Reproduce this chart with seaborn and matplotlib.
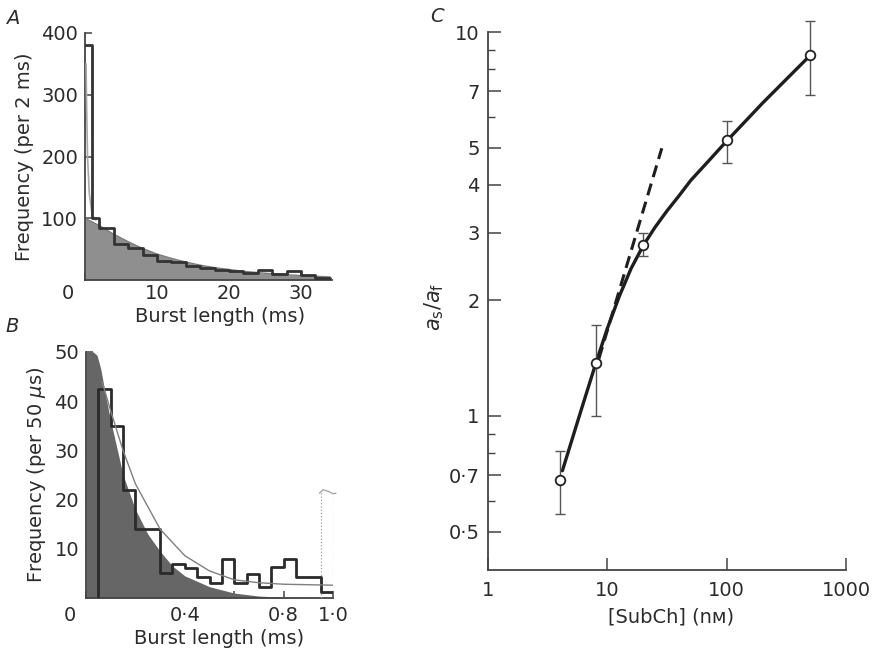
import numpy as np
import pandas as pd
import matplotlib
matplotlib.use("Agg")
import matplotlib.pyplot as plt
import seaborn as sns
from matplotlib.transforms import ScaledTranslation
from matplotlib.ticker import FixedLocator, FixedFormatter, NullLocator

# ---------------- Panel A data ----------------
a_edges = [0, 1, 2, 4, 6, 8, 10, 12, 14, 16, 18, 20, 22, 24, 26, 28, 30, 32, 34]
a_counts = [380, 100, 85, 58, 52, 40, 31, 29, 22, 20, 16, 14, 12, 16, 9, 14.5, 8, 4]
a_fill_x = [0, 1, 2, 4, 6, 8, 10, 12, 14, 16, 18, 20, 22, 25, 28, 31, 34]
a_fill_y = [100, 94, 88, 74, 62, 51, 42, 35, 29, 24, 20, 17, 14, 11, 8.5, 6.5, 5]
a_fast_x = [0.15, 0.2, 0.35, 0.6, 1.0, 1.5]
a_fast_y = [350, 300, 200, 140, 105, 97]

# ---------------- Panel B data ----------------
b_edges = [0.05, 0.10, 0.15, 0.20, 0.25, 0.30, 0.35, 0.40, 0.45, 0.50,
           0.55, 0.60, 0.65, 0.70, 0.75, 0.80, 0.85, 0.90, 0.95, 1.00]
b_counts = [42.5, 35, 22, 14, 14, 5, 7, 6, 4.3, 3, 8, 3, 4.8, 2.2, 6.3, 8, 4.3, 4.3, 1.2]
b_fill_x = [0, 0.03, 0.045, 0.06, 0.08, 0.10, 0.15, 0.20, 0.25, 0.30, 0.35, 0.40,
            0.50, 0.60, 0.70, 0.80, 0.90, 1.00]
b_fill_y = [50, 50, 49.3, 46.5, 41, 36, 25, 18, 13, 9.5, 6.5, 4.5, 2.3, 1.0, 0.4, 0.15, 0.05, 0]
b_fit_x = [0.065, 0.10, 0.15, 0.20, 0.30, 0.40, 0.50, 0.60, 0.70, 0.80, 0.90, 1.00]
b_fit_y = [44, 38, 30, 23.2, 14, 8.6, 5.5, 3.7, 3.1, 2.8, 2.7, 2.6]
b_overflow_edges = [0.95, 1.00]
b_overflow_value = 21.5

# ---------------- Panel C data ----------------
c_conc = [4, 8, 20, 100, 500]
c_ratio = [0.68, 1.37, 2.78, 5.22, 8.7]
c_low = [0.555, 1.0, 2.61, 4.55, 6.85]
c_high = [0.81, 1.73, 2.99, 5.87, 10.7]
c_curve_x = [4.2, 6, 8, 10, 12.6, 15.8, 20, 25.1, 31.6, 40, 50.1, 70.8, 100, 200, 316, 490]
c_curve_y = [0.72, 1.03, 1.37, 1.69, 2.05, 2.42, 2.78, 3.10, 3.42, 3.75, 4.11, 4.62, 5.2,
             6.53, 7.53, 8.63]
c_dash_x = [8.5, 28.6]
c_dash_y = [1.41, 4.98]

# ---------------- style ----------------
sns.set_theme(style="ticks")
plt.rcParams["font.family"] = ["DejaVu Sans"]
TXT = "#2b2b2b"
plt.rcParams.update({
    "text.color": TXT, "axes.labelcolor": TXT,
    "xtick.color": "#444444", "ytick.color": "#444444",
    "xtick.labelcolor": TXT, "ytick.labelcolor": TXT,
    "axes.edgecolor": "#444444", "axes.linewidth": 1.3,
    "mathtext.fontset": "dejavusans",
})
FS = 14

W, H = 872, 657
fig = plt.figure(figsize=(W / 100, H / 100), dpi=100, facecolor="white")

def px_axes(left, top, right, bottom):
    return fig.add_axes([left / W, 1 - bottom / H, (right - left) / W, (bottom - top) / H])

def shift_label(lbl, dx_px):
    lbl.set_transform(lbl.get_transform() + ScaledTranslation(dx_px / 100, 0, fig.dpi_scale_trans))

# ---------------- Panel A ----------------
axA = px_axes(85, 33, 332, 280)
axA.fill_between(a_fill_x, 0, a_fill_y, color="#8f8f8f", lw=0, zorder=1)
sns.lineplot(x=a_fill_x, y=a_fill_y, ax=axA, color="#7a7a7a", lw=1, sort=False, zorder=2)
a_centers = [(a_edges[i] + a_edges[i + 1]) / 2 for i in range(len(a_counts))]
sns.histplot(x=a_centers, weights=a_counts, bins=a_edges, element="step", fill=False,
             color="#333333", linewidth=2.0, ax=axA, zorder=4)
sns.lineplot(x=a_fast_x, y=a_fast_y, ax=axA, color="#a8a8a8", lw=1.2, sort=False, zorder=3)
axA.set_xlim(0, 34.3)
axA.set_ylim(0, 400)
axA.xaxis.set_major_locator(FixedLocator([0, 10, 20, 30]))
axA.xaxis.set_major_formatter(FixedFormatter(["0", "10", "20", "30"]))
axA.xaxis.set_minor_locator(FixedLocator([5, 15, 25]))
axA.yaxis.set_major_locator(FixedLocator([100, 200, 300, 400]))
axA.yaxis.set_major_formatter(FixedFormatter(["100", "200", "300", "400"]))
axA.tick_params(which="both", direction="in", length=5, width=1.1, labelsize=FS)
axA.tick_params(axis="x", pad=3)
axA.tick_params(axis="y", pad=5)
axA.set_xlabel("Burst length (ms)", fontsize=FS)
axA.set_ylabel("Frequency (per 2 ms)", fontsize=FS)
axA.xaxis.set_label_coords(0.545, -0.11)
axA.yaxis.set_label_coords(-0.206, 0.5)
sns.despine(ax=axA)
fig.canvas.draw()
shift_label(axA.get_xticklabels()[0], -17)

# ---------------- Panel B ----------------
axB = px_axes(86, 352, 333, 598)
axB.fill_between(b_fill_x, 0, b_fill_y, color="#666666", lw=0, zorder=1)
b_centers = [(b_edges[i] + b_edges[i + 1]) / 2 for i in range(len(b_counts))]
sns.histplot(x=b_centers, weights=b_counts, bins=b_edges, element="step", fill=False,
             color="#2a2a2a", linewidth=2.0, ax=axB, zorder=4)
axB.vlines([b_edges[0]], 0, [b_counts[0]], colors="#2a2a2a", lw=2.0, zorder=4)
sns.lineplot(x=b_fit_x, y=b_fit_y, ax=axB, color="#808080", lw=1.0, sort=False, zorder=5)
axB.vlines(b_overflow_edges, 0, b_overflow_value, colors="#a0a0a0", lw=0.9,
           linestyles=(0, (1, 1.6)), zorder=3)
axB.plot([b_overflow_edges[0] - 0.005, b_overflow_edges[0] + 0.01, b_overflow_edges[1] - 0.02,
          b_overflow_edges[1], b_overflow_edges[1] + 0.012],
         [b_overflow_value - 0.2, b_overflow_value + 0.5, b_overflow_value + 0.2,
          b_overflow_value - 0.3, b_overflow_value - 0.2],
         color="#a0a0a0", lw=0.9, clip_on=False, zorder=3)
axB.set_xlim(0, 1.0)
axB.set_ylim(0, 50)
axB.xaxis.set_major_locator(FixedLocator([0, 0.4, 0.8, 1.0]))
axB.xaxis.set_major_formatter(FixedFormatter(["0", "0·4", "0·8", "1·0"]))
axB.xaxis.set_minor_locator(FixedLocator([0.2, 0.6]))
axB.yaxis.set_major_locator(FixedLocator([10, 20, 30, 40, 50]))
axB.yaxis.set_major_formatter(FixedFormatter(["10", "20", "30", "40", "50"]))
axB.tick_params(which="both", direction="in", length=5, width=1.1, labelsize=FS)
axB.tick_params(axis="x", pad=6)
axB.tick_params(axis="y", pad=5)
axB.set_xlabel("Burst length (ms)", fontsize=FS)
axB.set_ylabel("Frequency (per 50 $\\mu$s)", fontsize=FS)
axB.xaxis.set_label_coords(0.54, -0.126)
axB.yaxis.set_label_coords(-0.154, 0.5)
sns.despine(ax=axB)
fig.canvas.draw()
shift_label(axB.get_xticklabels()[0], -16)

# ---------------- Panel C ----------------
axC = px_axes(488, 32, 846, 570)
axC.set_xscale("log")
axC.set_yscale("log")
sns.lineplot(x=c_curve_x, y=c_curve_y, ax=axC, color="#1e1e1e", lw=2.4, sort=False, zorder=3)
sns.lineplot(x=c_dash_x, y=c_dash_y, ax=axC, color="#1e1e1e", lw=2.2, sort=False, zorder=3,
             linestyle=(0, (4, 2.2)))
yerr = [np.array(c_ratio) - np.array(c_low), np.array(c_high) - np.array(c_ratio)]
axC.errorbar(c_conc, c_ratio, yerr=yerr, fmt="none", ecolor="#555555", elinewidth=1.0,
             capsize=3.5, capthick=1.0, zorder=4, clip_on=False)
sns.scatterplot(x=c_conc, y=c_ratio, ax=axC, marker="o", s=48, facecolor="white",
                edgecolor="#222222", linewidth=1.3, zorder=6, clip_on=False)
axC.set_xlim(1, 1000)
axC.set_ylim(0.397, 10)
axC.xaxis.set_major_locator(FixedLocator([1, 10, 100, 1000]))
axC.xaxis.set_major_formatter(FixedFormatter(["1", "10", "100", "1000"]))
axC.xaxis.set_minor_locator(NullLocator())
axC.yaxis.set_major_locator(FixedLocator([0.5, 0.7, 1, 2, 3, 4, 5, 7, 10]))
axC.yaxis.set_major_formatter(FixedFormatter(["0·5", "0·7", "1", "2", "3", "4", "5", "7", "10"]))
axC.yaxis.set_minor_locator(FixedLocator([0.6, 0.8, 0.9, 6, 8, 9]))
axC.tick_params(which="major", direction="in", length=9, width=1.1, labelsize=FS)
axC.tick_params(which="minor", direction="in", length=5, width=1.0)
axC.tick_params(axis="x", pad=8)
axC.tick_params(axis="y", pad=6)
axC.set_xlabel("[SubCh] (nᴍ)", fontsize=FS)
axC.set_ylabel("$a_\\mathrm{s}/a_\\mathrm{f}$", fontsize=FS + 1)
axC.xaxis.set_label_coords(0.511, -0.069)
axC.yaxis.set_label_coords(-0.117, 0.49)
sns.despine(ax=axC)

# ---------------- Panel letters ----------------
fig.text(13 / W, 1 - 18 / H, "A", fontsize=FS, style="italic", ha="center", va="center")
fig.text(12 / W, 1 - 326 / H, "B", fontsize=FS, style="italic", ha="center", va="center")
fig.text(437 / W, 1 - 16 / H, "C", fontsize=FS, style="italic", ha="center", va="center")

fig.savefig("out.png", dpi=100, facecolor="white")
